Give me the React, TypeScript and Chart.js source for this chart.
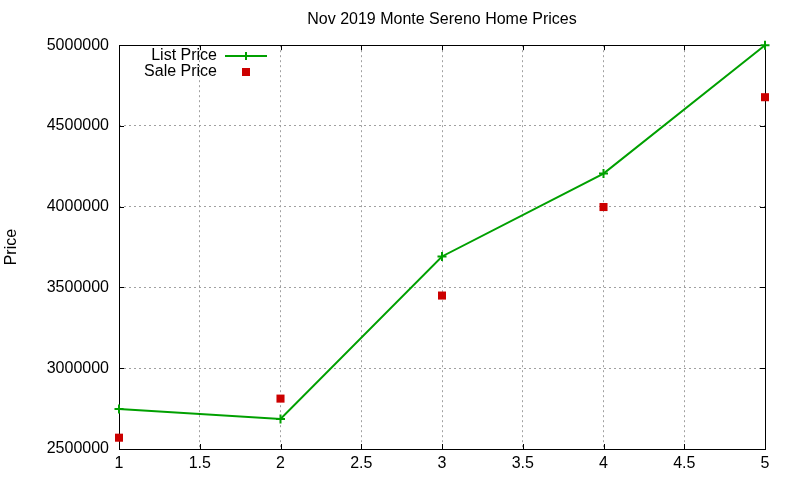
import React, { useEffect, useRef } from 'react';
import { Chart, registerables, Plugin } from 'chart.js';

Chart.register(...registerables);

const chartTitle = 'Nov 2019 Monte Sereno Home Prices';
const yAxisLabel = 'Price';
const xValues = [1, 2, 3, 4, 5];
const listPrices = [2748000, 2686000, 3692000, 4205000, 5000000];
const salePrices = [2570000, 2812000, 3450000, 3998000, 4678000];

const FONT = '"Liberation Sans", Arial, sans-serif';
const GREEN = '#00a000';
const RED = '#cc0000';

// gnuplot-like frame: black box with inward ticks on all four sides
const framePlugin: Plugin = {
  id: 'frame',
  beforeDatasetsDraw(chart) {
    const { ctx, chartArea: a, scales } = chart;
    const tick = 5;
    ctx.save();
    ctx.strokeStyle = '#000';
    ctx.lineWidth = 1;
    ctx.beginPath();
    scales.x.ticks.forEach((t) => {
      const px = Math.round(scales.x.getPixelForValue(t.value)) + 0.5;
      ctx.moveTo(px, a.bottom);
      ctx.lineTo(px, a.bottom - tick);
      ctx.moveTo(px, a.top);
      ctx.lineTo(px, a.top + tick);
    });
    scales.y.ticks.forEach((t) => {
      const py = Math.round(scales.y.getPixelForValue(t.value)) + 0.5;
      ctx.moveTo(a.left, py);
      ctx.lineTo(a.left + tick, py);
      ctx.moveTo(a.right, py);
      ctx.lineTo(a.right - tick, py);
    });
    ctx.stroke();
    ctx.strokeRect(
      Math.round(a.left) + 0.5,
      Math.round(a.top) + 0.5,
      Math.round(a.right - a.left),
      Math.round(a.bottom - a.top)
    );
    ctx.restore();
  },
};

// legend in the gnuplot style: right-aligned text, sample to the right
const keyPlugin: Plugin = {
  id: 'key',
  afterDatasetsDraw(chart) {
    const { ctx } = chart;
    const textRight = 217;
    const sampleLeft = 225;
    const sampleRight = 267;
    const top = 56;
    const rowHeight = 16;
    ctx.save();
    ctx.font = `16px ${FONT}`;
    ctx.textAlign = 'right';
    ctx.textBaseline = 'middle';
    chart.data.datasets.forEach((ds, i) => {
      const y = top + i * rowHeight;
      const mid = (sampleLeft + sampleRight) / 2;
      ctx.fillStyle = '#000';
      ctx.fillText(String(ds.label), textRight, y);
      if (ds.showLine !== false) {
        ctx.strokeStyle = GREEN;
        ctx.lineWidth = 2;
        ctx.beginPath();
        ctx.moveTo(sampleLeft, y);
        ctx.lineTo(sampleRight, y);
        ctx.moveTo(mid, y - 4);
        ctx.lineTo(mid, y + 4);
        ctx.stroke();
      } else {
        ctx.fillStyle = RED;
        ctx.fillRect(mid - 4, y - 4, 8, 8);
      }
    });
    ctx.restore();
  },
};

const App: React.FC = () => {
  const canvasRef = useRef<HTMLCanvasElement>(null);
  const chartRef = useRef<Chart | null>(null);

  useEffect(() => {
    document.body.style.margin = '0';
    if (!canvasRef.current) return;
    if (chartRef.current) chartRef.current.destroy();

    chartRef.current = new Chart(canvasRef.current, {
      type: 'line',
      data: {
        datasets: [
          {
            label: 'List Price',
            data: xValues.map((x, i) => ({ x, y: listPrices[i] })),
            borderColor: GREEN,
            backgroundColor: GREEN,
            borderWidth: 2,
            tension: 0,
            clip: false,
            pointStyle: 'cross',
            pointRadius: 4.5,
            pointBorderWidth: 2,
            pointBorderColor: GREEN,
          },
          {
            label: 'Sale Price',
            data: xValues.map((x, i) => ({ x, y: salePrices[i] })),
            showLine: false,
            clip: false,
            borderColor: RED,
            backgroundColor: RED,
            pointStyle: 'rect',
            pointRadius: 5.7,
            pointBorderWidth: 0,
          },
        ],
      },
      options: {
        animation: false,
        responsive: true,
        maintainAspectRatio: false,
        layout: { padding: { left: 0, right: 35, top: 0, bottom: 0 } },
        plugins: {
          legend: { display: false },
          tooltip: { enabled: false },
          title: {
            display: true,
            text: chartTitle,
            fullSize: false,
            color: '#000',
            font: { family: FONT, size: 16, weight: 'normal', lineHeight: 1.2 },
            padding: { top: 10, bottom: 16 },
          },
        },
        scales: {
          x: {
            type: 'linear',
            min: 1,
            max: 5,
            ticks: {
              stepSize: 0.5,
              color: '#000',
              padding: 5,
              maxRotation: 0,
              font: { family: FONT, size: 16 },
              callback: (v) => String(v),
            },
            grid: { color: '#a0a0a0', lineWidth: 1, drawTicks: false },
            border: { display: false, dash: [2, 3] },
            afterFit: (scale) => {
              scale.height = 31;
            },
          },
          y: {
            min: 2500000,
            max: 5000000,
            ticks: {
              stepSize: 500000,
              color: '#000',
              padding: 10,
              font: { family: FONT, size: 16 },
              callback: (v) => String(v),
            },
            grid: { color: '#a0a0a0', lineWidth: 1, drawTicks: false },
            border: { display: false, dash: [2, 3] },
            title: {
              display: true,
              text: yAxisLabel,
              color: '#000',
              font: { family: FONT, size: 16, lineHeight: 1.2 },
              padding: { top: 2, bottom: 0 },
            },
            afterFit: (scale) => {
              scale.width = 119;
            },
          },
        },
      },
      plugins: [framePlugin, keyPlugin],
    });

    return () => {
      if (chartRef.current) {
        chartRef.current.destroy();
        chartRef.current = null;
      }
    };
  }, []);

  return (
    <div style={{ width: 800, height: 480, position: 'relative', background: '#fff' }}>
      <canvas ref={canvasRef} />
    </div>
  );
};

export default App;
